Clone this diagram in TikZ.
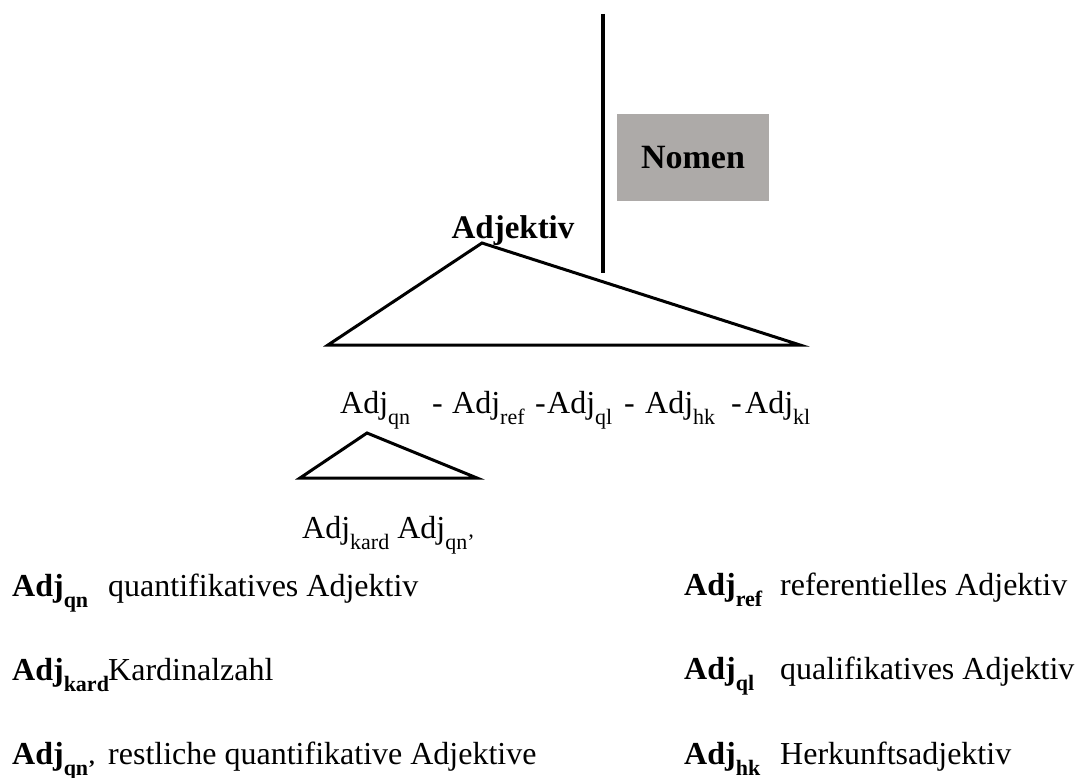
\documentclass[tikz,border=0pt]{standalone}
\usepackage{fontspec}
\setmainfont{Liberation Serif}
\newcommand{\Sb}[1]{\raisebox{-11pt}{\fontsize{22}{22}\selectfont #1}}
\newcommand{\SbB}[1]{\raisebox{-11pt}{\fontsize{22}{22}\selectfont\bfseries #1}}
\begin{document}
\begin{tikzpicture}[x=1pt,y=-1pt,
  txt/.style={anchor=base west, inner sep=0pt, font=\fontsize{32}{36}\selectfont},
  btxt/.style={txt, font=\fontsize{32}{36}\selectfont\bfseries},
  tri/.style={line width=3pt, line join=miter},
  pole/.style={line width=4pt}]
\useasboundingbox (0,0) rectangle (1086,778);

% Nomen column and box
\coordinate (poleT) at (603,14);
\coordinate (poleB) at (603,273);
\draw[pole] (poleT) -- (poleB);
\node[fill={rgb,255:red,173;green,170;blue,168}, minimum width=152pt, minimum height=87pt,
      inner sep=0pt, font=\fontsize{34}{38}\selectfont\bfseries] (nomen) at (693,157.5) {Nomen};

% Adjective phrase triangle
\node[anchor=base, inner sep=0pt, font=\fontsize{33}{36}\selectfont\bfseries] (adj) at (513,238) {Adjektiv};
\coordinate (A) at (482,243);
\coordinate (L) at (328,345);
\coordinate (R) at (800,345);
\draw[tri] (A) -- (L) -- (R) -- cycle;

% Sequence of adjective classes
\node[txt] (qn)  at (340,413) {Adj\Sb{qn}};
\node[txt] (d1)  at (432,413) {-};
\node[txt] (ref) at (452,413) {Adj\Sb{ref}};
\node[txt] (d2)  at (535,413) {-};
\node[txt] (ql)  at (547,413) {Adj\Sb{ql}};
\node[txt] (d3)  at (624,413) {-};
\node[txt] (hk)  at (645,413) {Adj\Sb{hk}};
\node[txt] (d4)  at (731,413) {-};
\node[txt] (kl)  at (745,413) {Adj\Sb{kl}};

% Sub-triangle under Adj_qn
\coordinate (a) at (367,433);
\coordinate (l) at (300,478);
\coordinate (r) at (477,478);
\draw[tri] (a) -- (l) -- (r) -- cycle;
\node[txt] (kard) at (302,538) {Adj\Sb{kard} Adj\Sb{qn’}};

% Legend, left column
\node[btxt] (k1) at (12,596) {Adj\SbB{qn}};
\node[txt]  (v1) at (108,596) {quantifikatives Adjektiv};
\node[btxt] (k2) at (12,680) {Adj\SbB{kard}};
\node[txt]  (v2) at (108,680) {Kardinalzahl};
\node[btxt] (k3) at (12,764) {Adj\SbB{qn’}};
\node[txt]  (v3) at (108,764) {restliche quantifikative Adjektive};

% Legend, right column
\node[btxt] (k4) at (684,595) {Adj\SbB{ref}};
\node[txt]  (v4) at (780,595) {referentielles Adjektiv};
\node[btxt] (k5) at (684,679) {Adj\SbB{ql}};
\node[txt]  (v5) at (780,679) {qualifikatives Adjektiv};
\node[btxt] (k6) at (684,764) {Adj\SbB{hk}};
\node[txt]  (v6) at (780,764) {Herkunftsadjektiv};
\end{tikzpicture}
\end{document}
